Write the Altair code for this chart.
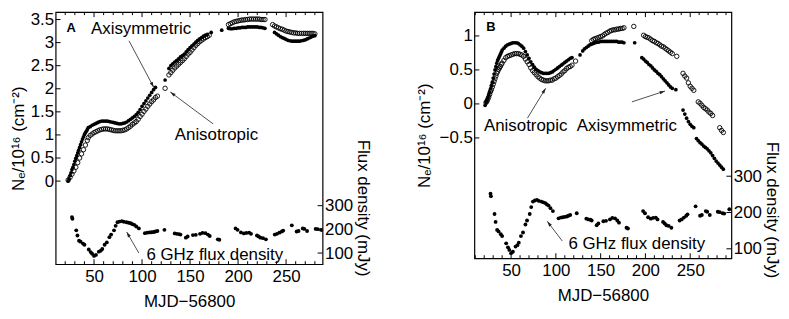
import math
import altair as alt
import pandas as pd

FONT = "Liberation Sans"

# ---------------- data ----------------
# Panel A, axisymmetric model (filled dots)
A_axi_mjd = [23, 24, 25, 26, 27, 28, 29, 30, 31, 32, 33, 34, 35, 36, 37, 38, 39, 40, 41, 42, 43, 44, 46, 48,
             50, 52, 54, 56, 58, 60, 62, 64, 66, 68, 70, 72, 74, 76, 78, 80, 82, 84, 86, 88, 90, 92, 94, 96,
             98, 100, 102, 104, 106, 108, 110, 112, 114, 124, 128, 130, 132, 134, 136, 138, 140, 142, 144,
             146, 148, 150, 152, 154, 156, 158, 160, 162, 164, 166, 168, 172, 183, 190, 192, 194, 196, 198,
             200, 202, 204, 206, 208, 210, 212, 214, 216, 218, 220, 222, 224, 226, 228, 238, 240, 242, 244,
             246, 248, 250, 252, 254, 256, 258, 260, 262, 264, 266, 268, 270, 272, 274, 276, 278, 280]
A_axi_ne = [0.00, 0.05, 0.12, 0.18, 0.25, 0.30, 0.36, 0.43, 0.49, 0.55, 0.61, 0.67, 0.73, 0.79, 0.85, 0.91,
            0.96, 1.01, 1.05, 1.08, 1.12, 1.16, 1.18, 1.21, 1.23, 1.25, 1.27, 1.29, 1.30, 1.30, 1.30, 1.30,
            1.29, 1.28, 1.27, 1.26, 1.25, 1.24, 1.24, 1.25, 1.26, 1.28, 1.31, 1.34, 1.37, 1.40, 1.44, 1.49,
            1.55, 1.62, 1.68, 1.74, 1.80, 1.86, 1.92, 1.98, 2.03, 2.19, 2.44, 2.50, 2.54, 2.58, 2.61, 2.65,
            2.69, 2.72, 2.75, 2.80, 2.85, 2.89, 2.93, 2.97, 3.01, 3.05, 3.08, 3.11, 3.14, 3.16, 3.18, 3.22,
            3.27, 3.31, 3.30, 3.30, 3.31, 3.31, 3.32, 3.32, 3.33, 3.33, 3.33, 3.34, 3.34, 3.34, 3.34, 3.34,
            3.34, 3.33, 3.33, 3.32, 3.31, 3.22, 3.19, 3.16, 3.13, 3.11, 3.09, 3.07, 3.05, 3.04, 3.03, 3.03,
            3.03, 3.03, 3.03, 3.04, 3.05, 3.06, 3.08, 3.10, 3.12, 3.14, 3.15]
# Panel A, anisotropic model (open circles)
A_ani_mjd = [23, 25, 27, 29, 31, 33, 35, 37, 39, 41, 43, 44, 46, 48, 50, 52, 54, 56, 58, 60, 62, 64, 66, 68,
             70, 72, 74, 76, 78, 80, 82, 84, 86, 88, 90, 92, 94, 96, 98, 100, 102, 104, 106, 108, 110, 112,
             114, 116, 124, 128, 130, 132, 134, 136, 138, 140, 142, 144, 146, 148, 150, 152, 154, 156, 158,
             160, 162, 164, 166, 168, 170, 190, 192, 194, 196, 198, 200, 202, 204, 206, 208, 210, 212, 214,
             216, 218, 220, 222, 224, 226, 228, 236, 238, 240, 242, 244, 246, 248, 250, 252, 254, 256, 258,
             260, 262, 264, 266, 268, 270, 272, 274, 276, 278, 280]
A_ani_ne = [0.02, 0.08, 0.15, 0.22, 0.30, 0.40, 0.50, 0.59, 0.68, 0.78, 0.88, 0.94, 0.99, 1.02, 1.05, 1.07,
            1.09, 1.11, 1.12, 1.13, 1.13, 1.13, 1.12, 1.11, 1.10, 1.09, 1.09, 1.09, 1.09, 1.10, 1.11, 1.13,
            1.16, 1.19, 1.23, 1.26, 1.29, 1.34, 1.40, 1.45, 1.51, 1.56, 1.62, 1.67, 1.72, 1.76, 1.81, 1.84,
            2.01, 2.30, 2.35, 2.40, 2.45, 2.49, 2.53, 2.57, 2.61, 2.65, 2.70, 2.75, 2.79, 2.84, 2.89, 2.94,
            2.98, 3.02, 3.05, 3.08, 3.11, 3.13, 3.16, 3.39, 3.41, 3.43, 3.45, 3.46, 3.47, 3.48, 3.49, 3.49,
            3.50, 3.50, 3.51, 3.51, 3.51, 3.51, 3.51, 3.51, 3.50, 3.50, 3.50, 3.39, 3.36, 3.34, 3.32, 3.30,
            3.29, 3.27, 3.25, 3.24, 3.23, 3.22, 3.21, 3.21, 3.20, 3.20, 3.20, 3.20, 3.20, 3.20, 3.20, 3.20,
            3.20, 3.19]
# Panel B, axisymmetric model (filled dots)
B_axi_mjd = [21, 22, 23, 24, 25, 26, 27, 28, 29, 30, 31, 32, 33, 34, 35, 36, 37, 38, 39, 40, 42, 44, 46, 48,
             50, 52, 54, 56, 58, 60, 62, 64, 66, 68, 70, 72, 74, 76, 78, 80, 82, 84, 86, 88, 90, 92, 94, 96,
             98, 100, 102, 104, 106, 108, 110, 112, 114, 116, 118, 127, 130, 132, 134, 136, 138, 140, 142,
             144, 146, 148, 150, 152, 154, 156, 158, 160, 162, 164, 166, 168, 170, 172, 174, 176, 188, 196,
             198, 200, 202, 204, 206, 208, 210, 212, 214, 216, 218, 220, 222, 224, 226, 228, 230, 234, 242,
             244, 246, 248, 250, 252, 254, 257, 259, 261, 263, 265, 267, 269, 271, 273, 275, 277, 279, 281,
             283, 285, 287]
B_axi_ne = [-0.02, 0.02, 0.05, 0.09, 0.13, 0.17, 0.22, 0.27, 0.32, 0.38, 0.44, 0.50, 0.55, 0.60, 0.64, 0.67,
            0.70, 0.73, 0.76, 0.79, 0.82, 0.85, 0.87, 0.88, 0.89, 0.90, 0.90, 0.90, 0.89, 0.87, 0.85, 0.82,
            0.77, 0.72, 0.67, 0.62, 0.58, 0.54, 0.51, 0.49, 0.47, 0.46, 0.45, 0.45, 0.45, 0.45, 0.46, 0.47,
            0.49, 0.51, 0.53, 0.55, 0.57, 0.59, 0.61, 0.63, 0.65, 0.67, 0.68, 0.72, 0.78, 0.81, 0.83, 0.85,
            0.87, 0.88, 0.89, 0.90, 0.91, 0.91, 0.92, 0.92, 0.92, 0.92, 0.92, 0.92, 0.92, 0.92, 0.92, 0.92,
            0.91, 0.91, 0.91, 0.90, 0.90, 0.68, 0.66, 0.63, 0.61, 0.58, 0.56, 0.53, 0.50, 0.48, 0.45, 0.43,
            0.40, 0.37, 0.34, 0.31, 0.28, 0.25, 0.23, 0.21, -0.09, -0.15, -0.21, -0.26, -0.30, -0.33, -0.35,
            -0.51, -0.54, -0.57, -0.59, -0.62, -0.64, -0.66, -0.69, -0.72, -0.76, -0.80, -0.84, -0.87, -0.90,
            -0.93, -0.96]
# Panel B, anisotropic model (open circles)
B_ani_mjd = [22, 23, 24, 25, 26, 27, 28, 29, 30, 31, 32, 33, 34, 35, 36, 37, 38, 39, 40, 42, 44, 46, 48, 50,
             52, 54, 56, 58, 60, 62, 64, 66, 68, 70, 72, 74, 76, 78, 80, 82, 84, 86, 88, 90, 92, 94, 96, 98,
             100, 102, 104, 106, 108, 110, 112, 114, 116, 118, 122, 140, 142, 144, 146, 148, 150, 152, 154,
             156, 158, 160, 162, 164, 166, 168, 170, 172, 174, 176, 187, 198, 200, 202, 204, 206, 208, 210,
             212, 214, 216, 218, 220, 222, 224, 226, 228, 230, 235, 242, 244, 246, 248, 250, 252, 254, 259,
             261, 263, 265, 267, 269, 271, 273, 275, 283, 285, 287]
B_ani_ne = [0.02, 0.04, 0.07, 0.10, 0.14, 0.18, 0.21, 0.25, 0.29, 0.33, 0.37, 0.41, 0.45, 0.48, 0.51, 0.53,
            0.55, 0.58, 0.60, 0.64, 0.68, 0.70, 0.71, 0.72, 0.73, 0.74, 0.74, 0.74, 0.73, 0.72, 0.70, 0.66,
            0.62, 0.58, 0.53, 0.49, 0.46, 0.43, 0.40, 0.38, 0.36, 0.35, 0.34, 0.34, 0.34, 0.35, 0.35, 0.37,
            0.38, 0.40, 0.42, 0.44, 0.47, 0.49, 0.52, 0.54, 0.55, 0.57, 0.63, 0.93, 0.95, 0.96, 0.97, 0.98,
            0.99, 1.00, 1.02, 1.04, 1.05, 1.07, 1.08, 1.09, 1.09, 1.10, 1.10, 1.11, 1.11, 1.12, 1.14, 1.01,
            0.99, 0.98, 0.97, 0.95, 0.93, 0.92, 0.90, 0.89, 0.87, 0.85, 0.84, 0.82, 0.80, 0.78, 0.76, 0.74,
            0.70, 0.45, 0.41, 0.38, 0.31, 0.26, 0.23, 0.20, 0.03, 0.01, -0.02, -0.05, -0.07, -0.09, -0.12,
            -0.14, -0.17, -0.35, -0.39, -0.42]
# 6 GHz flux density (same in both panels)
flux_mjd = [27, 27.5, 31.5, 32.7, 34.4, 36, 38.5, 40, 44.5, 46.5, 48, 50, 52, 55, 57, 58.6, 61, 63.3, 66,
            67.8, 70.8, 72.5, 74.4, 76.5, 78.9, 81, 83.8, 86, 88.2, 90, 91.9, 94, 96.7, 103, 105.5, 107.8,
            110, 112.2, 114, 116, 123.3, 134, 136.3, 138.5, 140, 145.6, 147.5, 153, 156, 160.4, 163, 166,
            168.6, 170.5, 178.9, 180.5, 197.4, 199.5, 203, 206, 208.6, 211.6, 213.5, 219.7, 221.5, 223.4,
            226, 229, 238.2, 240.5, 243, 245.6, 247, 256, 261, 263, 267.4, 269, 271.9, 280.8, 283, 286.3,
            288, 293.7]
flux_mjy = [252, 245, 196, 174, 152, 148, 140, 135, 115, 104, 97, 88, 92, 106, 110, 117, 135, 145, 167, 178,
            196, 215, 230, 233, 235, 232, 230, 228, 226, 222, 219, 212, 204, 184, 186, 187, 188, 189, 191,
            193, 198, 183, 181, 180, 178, 165, 170, 176, 177, 181, 185, 184, 178, 172, 158, 156, 204, 198,
            187, 183, 185, 186, 181, 174, 170, 165, 163, 158, 178, 181, 186, 191, 195, 217, 191, 193, 204,
            202, 193, 202, 201, 198, 197, 209]

# annotation texts
A_labels = ["Axisymmetric", "Anisotropic"]
A_label_mjd = [99, 177.5]
A_label_ne = [3.30, 1.0]
A_arrow_mjd = [86.4, 174]
A_arrow_ne = [3.04, 1.24]
A_arrow_mjd2 = [112.2, 129.4]
A_arrow_ne2 = [2.03, 1.93]
B_labels = ["Anisotropic", "Axisymmetric"]
B_label_mjd = [66.3, 179.3]
B_label_ne = [-0.32, -0.32]
B_arrow_mjd = [68.2, 184.9]
B_arrow_ne = [-0.21, 0.03]
B_arrow_mjd2 = [88.6, 221.9]
B_arrow_ne2 = [0.23, 0.19]
flux_label = "6 GHz flux density"
A_flabel = (175.8, 92)
A_farrow = (96.7, 100, 84, 189)
B_flabel = (190.4, 113)
B_farrow = (107.1, 121.6, 90.4, 175.6)

ARROW = "M0,0 L-2,-0.6 L-2,0.6 Z"


def angle(x1, y1, x2, y2, xdom, ydom, W, H):
    kx = W / (xdom[1] - xdom[0])
    ky = H / (ydom[1] - ydom[0])
    return math.degrees(math.atan2(-(y2 - y1) * ky, (x2 - x1) * kx)) % 360


def panel(letter, axi_m, axi_n, ani_m, ani_n, xdom, ydom, fdom, yvals, W, H,
          labels, lm, ln, am, an, am2, an2, flab, farr, ltpad, rtitle_y, letter_pos, xminor):
    X = alt.X("mjd:Q", scale=alt.Scale(domain=xdom, nice=False, zero=False),
              axis=alt.Axis(values=[50, 100, 150, 200, 250], title="MJD−56800",
                            labelPadding=4, titlePadding=10))
    YL = alt.Y("ne:Q", scale=alt.Scale(domain=ydom, nice=False, zero=False),
               axis=alt.Axis(values=yvals, format="~g", orient="left",
                             title="Nₑ/10¹⁶ (cm⁻²)", titlePadding=ltpad))
    YR = alt.Y("flux:Q", scale=alt.Scale(domain=fdom, nice=False, zero=False),
               axis=alt.Axis(values=[100, 200, 300], orient="right",
                             title="Flux density (mJy)", titlePadding=1, titleY=rtitle_y))

    d_axi = pd.DataFrame({"mjd": axi_m, "ne": axi_n})
    d_ani = pd.DataFrame({"mjd": ani_m, "ne": ani_n})
    d_flux = pd.DataFrame({"mjd": flux_mjd, "flux": flux_mjy})
    majors = [50, 100, 150, 200, 250]
    d_xmaj = pd.DataFrame({"mjd": majors})
    d_xmin = pd.DataFrame({"mjd": [v for v in xminor if v not in majors]})
    d_yl = pd.DataFrame({"ne": yvals})
    d_yr = pd.DataFrame({"flux": [100, 200, 300]})
    d_txt = pd.DataFrame({"mjd": lm, "ne": ln, "label": labels})
    d_arr = pd.DataFrame({"mjd": am, "ne": an, "mjd2": am2, "ne2": an2})
    d_head = pd.DataFrame({"mjd": am2, "ne": an2,
                           "ang": [angle(a, b, c, d, xdom, ydom, W, H)
                                   for a, b, c, d in zip(am, an, am2, an2)]})
    d_letter = pd.DataFrame({"mjd": [letter_pos[0]], "ne": [letter_pos[1]], "label": [letter]})

    left = alt.layer(
        alt.Chart(d_axi).mark_point(filled=True, size=14, color="black", opacity=1).encode(x=X, y=YL),
        alt.Chart(d_ani).mark_point(filled=False, size=20, color="black", strokeWidth=0.9,
                                    opacity=1).encode(x=X, y=YL),
        alt.Chart(d_xmaj).mark_rule(color="black").encode(x=X, y=alt.value(H), y2=alt.value(H - 5)),
        alt.Chart(d_xmin).mark_rule(color="black").encode(x=X, y=alt.value(H), y2=alt.value(H - 3)),
        alt.Chart(d_xmaj).mark_rule(color="black").encode(x=X, y=alt.value(0), y2=alt.value(5)),
        alt.Chart(d_xmin).mark_rule(color="black").encode(x=X, y=alt.value(0), y2=alt.value(3)),
        alt.Chart(d_yl).mark_rule(color="black").encode(x=alt.value(0), x2=alt.value(5), y=YL),
        alt.Chart(d_txt).mark_text(font=FONT, fontSize=17, align="center", baseline="middle",
                                   color="black").encode(x=X, y=YL, text="label:N"),
        alt.Chart(d_arr).mark_rule(color="#222222", strokeWidth=0.8).encode(
            x=X, y=YL, x2="mjd2:Q", y2="ne2:Q"),
        alt.Chart(d_head).mark_point(shape=ARROW, filled=True, size=30, color="#222222",
                                     opacity=1).encode(x=X, y=YL, angle=alt.Angle("ang:Q", scale=None)),
        alt.Chart(d_letter).mark_text(font=FONT, fontSize=13, fontWeight="bold", align="center",
                                      baseline="middle", color="black").encode(x=X, y=YL, text="label:N"),
    )

    d_ftxt = pd.DataFrame({"mjd": [flab[0]], "flux": [flab[1]], "label": [flux_label]})
    d_farr = pd.DataFrame({"mjd": [farr[0]], "flux": [farr[1]], "mjd2": [farr[2]], "flux2": [farr[3]]})
    fdom_h = angle(farr[0], farr[1], farr[2], farr[3], xdom, fdom, W, H)
    d_fhead = pd.DataFrame({"mjd": [farr[2]], "flux": [farr[3]], "ang": [fdom_h]})

    right = alt.layer(
        alt.Chart(d_flux).mark_point(filled=True, size=15, color="black", opacity=1,
                                     clip=True).encode(x=X, y=YR),
        alt.Chart(d_yr).mark_rule(color="black").encode(x=alt.value(W), x2=alt.value(W - 5), y=YR),
        alt.Chart(d_ftxt).mark_text(font=FONT, fontSize=17, align="center", baseline="middle",
                                    color="black").encode(x=X, y=YR, text="label:N"),
        alt.Chart(d_farr).mark_rule(color="#222222", strokeWidth=0.8).encode(
            x=X, y=YR, x2="mjd2:Q", y2="flux2:Q"),
        alt.Chart(d_fhead).mark_point(shape=ARROW, filled=True, size=30, color="#222222",
                                      opacity=1).encode(x=X, y=YR, angle=alt.Angle("ang:Q", scale=None)),
    )
    return alt.layer(left, right).resolve_scale(y="independent").properties(width=W, height=H)


pA = panel("A", A_axi_mjd, A_axi_ne, A_ani_mjd, A_ani_ne, [10, 288], [-1.80, 3.66], [53, 1117],
           [0, 0.5, 1, 1.5, 2, 2.5, 3, 3.5], 269, 254,
           A_labels, A_label_mjd, A_label_ne, A_arrow_mjd, A_arrow_ne, A_arrow_mjd2, A_arrow_ne2,
           A_flabel, A_farrow, 3, 197, (26.3, 3.32), list(range(20, 290, 10)))
pB = panel("B", B_axi_mjd, B_axi_ne, B_ani_mjd, B_ani_ne, [9, 296], [-2.27, 1.35], [74, 752],
           [-0.5, 0, 0.5, 1], 259, 248,
           B_labels, B_label_mjd, B_label_ne, B_arrow_mjd, B_arrow_ne, B_arrow_mjd2, B_arrow_ne2,
           B_flabel, B_farrow, 6, 199, (27.4, 1.13), list(range(10, 296, 10)))

chart = alt.hconcat(pA, pB, spacing=42).properties(
    padding=0, background="white"
).configure_view(stroke="black", strokeWidth=1.2).configure_axis(
    grid=False, ticks=False, domain=False, labelFont=FONT, titleFont=FONT, labelFontSize=17,
    titleFontSize=17, labelColor="black", titleColor="black", titleFontWeight="normal", labelPadding=2
)

chart.save("out.html", embed_options={"renderer": "svg", "actions": False})
